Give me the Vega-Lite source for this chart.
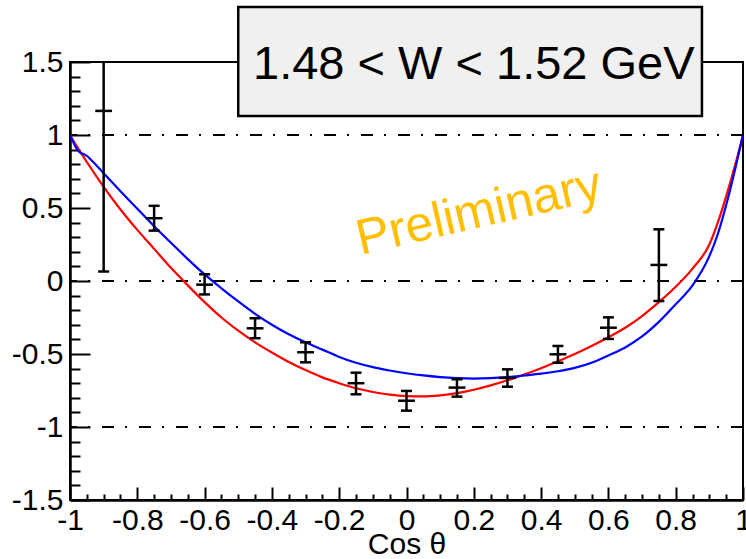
{
  "$schema": "https://vega.github.io/schema/vega-lite/v6.json",
  "width": 673,
  "height": 438,
  "autosize": {"type": "none"},
  "padding": {"left": 70, "top": 62, "right": 3, "bottom": 59},
  "background": "white",
  "config": {
    "view": {"stroke": "#000", "strokeWidth": 2},
    "font": "Liberation Sans",
    "axis": {
      "grid": false,
      "domainColor": "#000",
      "domainWidth": 2.5,
      "tickColor": "#000",
      "tickWidth": 2,
      "labelColor": "#000",
      "labelFont": "Liberation Sans",
      "labelFontSize": 29
    }
  },
  "resolve": {"axis": {"x": "independent", "y": "independent"}},
  "datasets": {
    "fits": [
      {"model": "fit 1", "x": -1, "y": 1},
      {"model": "fit 1", "x": -0.975, "y": 0.905},
      {"model": "fit 1", "x": -0.95, "y": 0.815},
      {"model": "fit 1", "x": -0.9, "y": 0.645},
      {"model": "fit 1", "x": -0.85, "y": 0.49},
      {"model": "fit 1", "x": -0.8, "y": 0.35},
      {"model": "fit 1", "x": -0.75, "y": 0.22},
      {"model": "fit 1", "x": -0.7, "y": 0.09},
      {"model": "fit 1", "x": -0.65, "y": -0.03},
      {"model": "fit 1", "x": -0.6, "y": -0.145},
      {"model": "fit 1", "x": -0.55, "y": -0.25},
      {"model": "fit 1", "x": -0.5, "y": -0.34},
      {"model": "fit 1", "x": -0.45, "y": -0.42},
      {"model": "fit 1", "x": -0.4, "y": -0.49},
      {"model": "fit 1", "x": -0.35, "y": -0.555},
      {"model": "fit 1", "x": -0.3, "y": -0.61},
      {"model": "fit 1", "x": -0.25, "y": -0.66},
      {"model": "fit 1", "x": -0.2, "y": -0.7},
      {"model": "fit 1", "x": -0.15, "y": -0.735},
      {"model": "fit 1", "x": -0.1, "y": -0.76},
      {"model": "fit 1", "x": -0.05, "y": -0.778},
      {"model": "fit 1", "x": 0, "y": -0.788},
      {"model": "fit 1", "x": 0.05, "y": -0.79},
      {"model": "fit 1", "x": 0.1, "y": -0.783},
      {"model": "fit 1", "x": 0.15, "y": -0.768},
      {"model": "fit 1", "x": 0.2, "y": -0.745},
      {"model": "fit 1", "x": 0.25, "y": -0.715},
      {"model": "fit 1", "x": 0.3, "y": -0.68},
      {"model": "fit 1", "x": 0.35, "y": -0.64},
      {"model": "fit 1", "x": 0.4, "y": -0.597},
      {"model": "fit 1", "x": 0.45, "y": -0.55},
      {"model": "fit 1", "x": 0.5, "y": -0.5},
      {"model": "fit 1", "x": 0.55, "y": -0.445},
      {"model": "fit 1", "x": 0.6, "y": -0.385},
      {"model": "fit 1", "x": 0.65, "y": -0.32},
      {"model": "fit 1", "x": 0.7, "y": -0.24},
      {"model": "fit 1", "x": 0.75, "y": -0.145},
      {"model": "fit 1", "x": 0.8, "y": -0.04},
      {"model": "fit 1", "x": 0.85, "y": 0.085},
      {"model": "fit 1", "x": 0.9, "y": 0.25},
      {"model": "fit 1", "x": 0.925, "y": 0.4},
      {"model": "fit 1", "x": 0.95, "y": 0.58},
      {"model": "fit 1", "x": 0.975, "y": 0.78},
      {"model": "fit 1", "x": 1, "y": 1},
      {"model": "fit 2", "x": -1, "y": 1},
      {"model": "fit 2", "x": -0.99, "y": 0.95},
      {"model": "fit 2", "x": -0.98, "y": 0.905},
      {"model": "fit 2", "x": -0.97, "y": 0.88},
      {"model": "fit 2", "x": -0.96, "y": 0.87},
      {"model": "fit 2", "x": -0.95, "y": 0.857},
      {"model": "fit 2", "x": -0.94, "y": 0.836},
      {"model": "fit 2", "x": -0.92, "y": 0.788},
      {"model": "fit 2", "x": -0.9, "y": 0.738},
      {"model": "fit 2", "x": -0.85, "y": 0.615},
      {"model": "fit 2", "x": -0.8, "y": 0.495},
      {"model": "fit 2", "x": -0.75, "y": 0.375},
      {"model": "fit 2", "x": -0.7, "y": 0.262},
      {"model": "fit 2", "x": -0.65, "y": 0.15},
      {"model": "fit 2", "x": -0.6, "y": 0.045},
      {"model": "fit 2", "x": -0.55, "y": -0.05},
      {"model": "fit 2", "x": -0.5, "y": -0.14},
      {"model": "fit 2", "x": -0.45, "y": -0.225},
      {"model": "fit 2", "x": -0.4, "y": -0.3},
      {"model": "fit 2", "x": -0.35, "y": -0.365},
      {"model": "fit 2", "x": -0.3, "y": -0.42},
      {"model": "fit 2", "x": -0.25, "y": -0.47},
      {"model": "fit 2", "x": -0.2, "y": -0.52},
      {"model": "fit 2", "x": -0.15, "y": -0.56},
      {"model": "fit 2", "x": -0.1, "y": -0.59},
      {"model": "fit 2", "x": -0.05, "y": -0.613},
      {"model": "fit 2", "x": 0, "y": -0.632},
      {"model": "fit 2", "x": 0.05, "y": -0.647},
      {"model": "fit 2", "x": 0.1, "y": -0.658},
      {"model": "fit 2", "x": 0.15, "y": -0.665},
      {"model": "fit 2", "x": 0.2, "y": -0.668},
      {"model": "fit 2", "x": 0.25, "y": -0.665},
      {"model": "fit 2", "x": 0.3, "y": -0.658},
      {"model": "fit 2", "x": 0.35, "y": -0.647},
      {"model": "fit 2", "x": 0.4, "y": -0.635},
      {"model": "fit 2", "x": 0.45, "y": -0.618},
      {"model": "fit 2", "x": 0.5, "y": -0.595},
      {"model": "fit 2", "x": 0.55, "y": -0.56},
      {"model": "fit 2", "x": 0.6, "y": -0.51},
      {"model": "fit 2", "x": 0.65, "y": -0.455},
      {"model": "fit 2", "x": 0.7, "y": -0.38},
      {"model": "fit 2", "x": 0.75, "y": -0.28},
      {"model": "fit 2", "x": 0.8, "y": -0.16},
      {"model": "fit 2", "x": 0.85, "y": -0.03},
      {"model": "fit 2", "x": 0.9, "y": 0.17},
      {"model": "fit 2", "x": 0.925, "y": 0.32},
      {"model": "fit 2", "x": 0.95, "y": 0.52},
      {"model": "fit 2", "x": 0.975, "y": 0.75},
      {"model": "fit 2", "x": 1, "y": 1}
    ],
    "measured": [
      {"x": -0.9, "xlo": -0.925, "xhi": -0.875, "y": 1.165, "ylo": 0.065, "yhi": 2.265},
      {"x": -0.75, "xlo": -0.775, "xhi": -0.725, "y": 0.43, "ylo": 0.345, "yhi": 0.515},
      {"x": -0.6, "xlo": -0.625, "xhi": -0.575, "y": -0.025, "ylo": -0.092, "yhi": 0.046},
      {"x": -0.45, "xlo": -0.475, "xhi": -0.425, "y": -0.324, "ylo": -0.392, "yhi": -0.255},
      {"x": -0.3, "xlo": -0.325, "xhi": -0.275, "y": -0.488, "ylo": -0.557, "yhi": -0.42},
      {"x": -0.15, "xlo": -0.175, "xhi": -0.125, "y": -0.7, "ylo": -0.776, "yhi": -0.628},
      {"x": 0, "xlo": -0.025, "xhi": 0.025, "y": -0.82, "ylo": -0.888, "yhi": -0.753},
      {"x": 0.15, "xlo": 0.125, "xhi": 0.175, "y": -0.73, "ylo": -0.792, "yhi": -0.673},
      {"x": 0.3, "xlo": 0.275, "xhi": 0.325, "y": -0.664, "ylo": -0.724, "yhi": -0.605},
      {"x": 0.45, "xlo": 0.425, "xhi": 0.475, "y": -0.502, "ylo": -0.56, "yhi": -0.445},
      {"x": 0.6, "xlo": 0.575, "xhi": 0.625, "y": -0.32, "ylo": -0.397, "yhi": -0.249},
      {"x": 0.75, "xlo": 0.725, "xhi": 0.775, "y": 0.11, "ylo": -0.137, "yhi": 0.354}
    ],
    "levels": [{"y": 1}, {"y": 0}, {"y": -1}]
  },
  "layer": [
    {
      "data": {"name": "levels"},
      "mark": {"type": "rule", "color": "#000", "strokeWidth": 2, "strokeDash": [12, 12, 2, 11]},
      "encoding": {
        "y": {"field": "y", "type": "quantitative", "scale": {"domain": [-1.5, 1.5], "nice": false, "zero": false}, "axis": null}
      }
    },
    {
      "data": {"name": "fits"},
      "mark": {"type": "line", "strokeWidth": 2.2, "interpolate": "monotone", "clip": true},
      "encoding": {
        "x": {
          "field": "x",
          "type": "quantitative",
          "scale": {"domain": [-1, 1], "nice": false, "zero": false},
          "axis": {
            "orient": "bottom",
            "title": "Cos θ",
            "titleFont": "Liberation Sans",
            "titleFontSize": 30,
            "titleFontWeight": "normal",
            "titleColor": "#000",
            "titleAlign": "center",
            "titleBaseline": "alphabetic",
            "titleX": 336.5,
            "titleY": 53,
            "values": [-1, -0.8, -0.6, -0.4, -0.2, 0, 0.2, 0.4, 0.6, 0.8, 1],
            "tickSize": -13,
            "labelPadding": 18,
            "labelFontSize": 30,
            "labelOverlap": false,
            "labelFlush": false,
            "labelBound": false,
            "labelExpr": "toString(round(datum.value*10)/10)"
          }
        },
        "y": {
          "field": "y",
          "type": "quantitative",
          "scale": {"domain": [-1.5, 1.5], "nice": false, "zero": false},
          "axis": {
            "orient": "left",
            "title": null,
            "values": [-1.5, -1, -0.5, 0, 0.5, 1, 1.5],
            "tickSize": -20,
            "labelPadding": 27,
            "labelFontSize": 30,
            "labelOverlap": false,
            "labelFlush": false,
            "labelBound": false,
            "labelExpr": "toString(round(datum.value*10)/10)"
          }
        },
        "color": {"field": "model", "type": "nominal", "scale": {"domain": ["fit 1", "fit 2"], "range": ["#ff0000", "#0000ff"]}, "legend": null}
      }
    },
    {
      "data": {"name": "measured"},
      "mark": {"type": "rule", "color": "#000", "strokeWidth": 2.5, "clip": true},
      "encoding": {
        "x": {
          "field": "x",
          "type": "quantitative",
          "axis": {
            "orient": "bottom",
            "title": null,
            "labels": false,
            "domain": false,
            "tickSize": -6,
            "values": [-0.95, -0.9, -0.85, -0.75, -0.7, -0.65, -0.55, -0.5, -0.45, -0.35, -0.3, -0.25, -0.15, -0.1, -0.05, 0.05, 0.1, 0.15, 0.25, 0.3, 0.35, 0.45, 0.5, 0.55, 0.65, 0.7, 0.75, 0.85, 0.9, 0.95]
          }
        },
        "y": {
          "field": "ylo",
          "type": "quantitative",
          "axis": {
            "orient": "left",
            "title": null,
            "labels": false,
            "domain": false,
            "tickSize": -10,
            "values": [-1.4, -1.3, -1.2, -1.1, -0.9, -0.8, -0.7, -0.6, -0.4, -0.3, -0.2, -0.1, 0.1, 0.2, 0.3, 0.4, 0.6, 0.7, 0.8, 0.9, 1.1, 1.2, 1.3, 1.4]
          }
        },
        "y2": {"field": "yhi"}
      }
    },
    {
      "data": {"name": "measured"},
      "mark": {"type": "rule", "color": "#000", "strokeWidth": 2.5, "clip": true},
      "encoding": {
        "x": {"field": "xlo", "type": "quantitative", "axis": null},
        "x2": {"field": "xhi"},
        "y": {"field": "y", "type": "quantitative", "axis": null}
      }
    },
    {
      "data": {"name": "measured"},
      "mark": {"type": "tick", "orient": "horizontal", "color": "#000", "size": 11, "thickness": 2.5, "opacity": 1, "clip": true},
      "encoding": {
        "x": {"field": "x", "type": "quantitative", "axis": null},
        "y": {"field": "ylo", "type": "quantitative", "axis": null}
      }
    },
    {
      "data": {"name": "measured"},
      "mark": {"type": "tick", "orient": "horizontal", "color": "#000", "size": 11, "thickness": 2.5, "opacity": 1, "clip": true},
      "encoding": {
        "x": {"field": "x", "type": "quantitative", "axis": null},
        "y": {"field": "yhi", "type": "quantitative", "axis": null}
      }
    },
    {
      "data": {"values": [{"label": "Preliminary"}]},
      "mark": {"type": "text", "angle": -13, "font": "Liberation Sans", "fontSize": 50, "color": "#ffbf00", "align": "center", "baseline": "middle"},
      "encoding": {
        "text": {"field": "label"},
        "x": {"datum": 0.215, "type": "quantitative", "axis": null},
        "y": {"datum": 0.47, "type": "quantitative", "axis": null}
      }
    },
    {
      "data": {"values": [{"label": "1.48 < W < 1.52 GeV"}]},
      "layer": [
        {
          "mark": {"type": "rect", "fill": "#f0f0f0", "stroke": "#000", "strokeWidth": 2.5, "clip": false},
          "encoding": {
            "x": {"datum": -0.5, "type": "quantitative", "axis": null},
            "x2": {"datum": 0.878},
            "y": {"datum": 1.877, "type": "quantitative", "axis": null},
            "y2": {"datum": 1.13}
          }
        },
        {
          "mark": {"type": "text", "font": "Liberation Sans", "fontSize": 47, "color": "#000", "align": "center", "baseline": "alphabetic", "clip": false},
          "encoding": {
            "text": {"field": "label"},
            "x": {"datum": 0.2, "type": "quantitative", "axis": null},
            "y": {"datum": 1.385, "type": "quantitative", "axis": null}
          }
        }
      ]
    }
  ]
}
